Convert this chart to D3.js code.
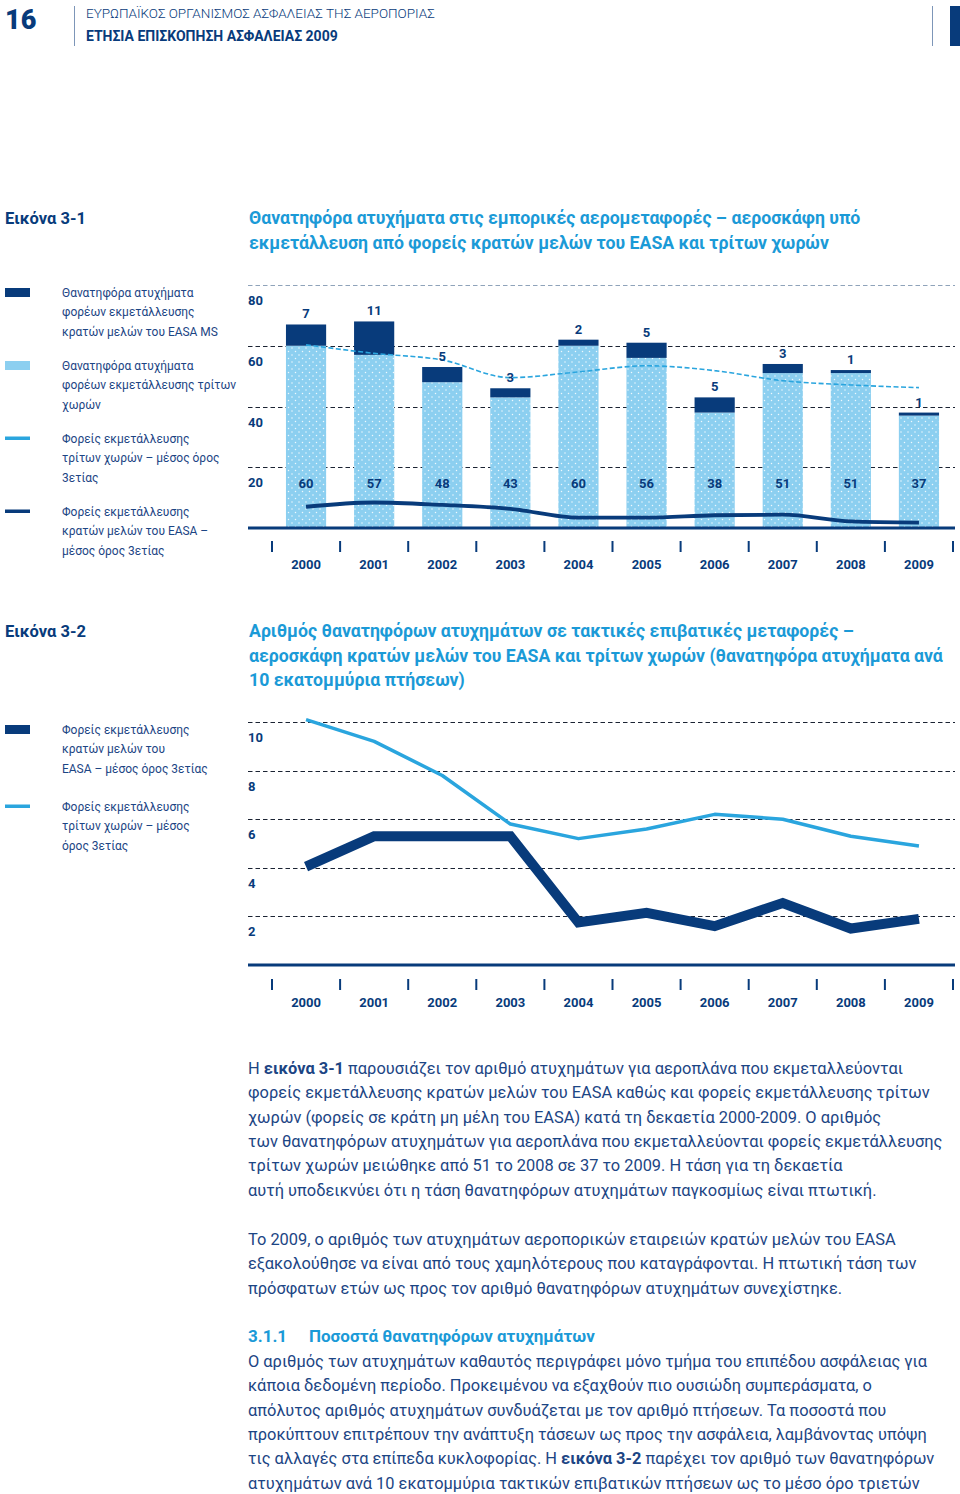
<!DOCTYPE html>
<html><head><meta charset="utf-8">
<script src="https://cdn.jsdelivr.net/npm/d3@7"></script>
<style>
body{margin:0;background:#fff}
svg{display:block}
text{font-family:Roboto,"Noto Sans",sans-serif}
</style>
</head><body>
<svg id="c" width="960" height="1494"></svg>
<script>
// ---------- DATA ----------
const years = ["2000","2001","2002","2003","2004","2005","2006","2007","2008","2009"];
const thirdCountryFatal = [60,57,48,43,60,56,38,51,51,37];
const easaFatal = [7,11,5,3,2,5,5,3,1,1];
const thirdAvg3 = [60.3,57.5,55.3,49.5,51.4,53.4,51.8,48.5,47.1,46.2];
const easaAvg3 = [7.0,8.4,7.6,6.3,3.4,3.4,4.2,4.4,2.2,1.8];
const rateThird = [10.1,9.2,7.8,5.8,5.2,5.6,6.2,6.0,5.3,4.9];
const rateEasa = [4.05,5.3,5.3,5.3,1.75,2.15,1.6,2.55,1.5,1.9];
const yTicks1 = [20,40,60,80];
const yTicks2 = [2,4,6,8,10];

const legend1 = [
  {type:"rect", color:"dark", lines:["Θανατηφόρα ατυχήματα","φορέων εκμετάλλευσης","κρατών μελών του EASA MS"]},
  {type:"rect", color:"light", lines:["Θανατηφόρα ατυχήματα","φορέων εκμετάλλευσης τρίτων","χωρών"]},
  {type:"line", color:"mid", lines:["Φορείς εκμετάλλευσης","τρίτων χωρών – μέσος όρος","3ετίας"]},
  {type:"line", color:"dark", lines:["Φορείς εκμετάλλευσης","κρατών μελών του EASA –","μέσος όρος 3ετίας"]}
];
const legend2 = [
  {type:"rect", color:"dark", lines:["Φορείς εκμετάλλευσης","κρατών μελών του","EASA – μέσος όρος 3ετίας"]},
  {type:"line", color:"mid", lines:["Φορείς εκμετάλλευσης","τρίτων χωρών – μέσος","όρος 3ετίας"]}
];

const para1 = [
  [["Η "],["εικόνα 3-1",1],[" παρουσιάζει τον αριθμό ατυχημάτων για αεροπλάνα που εκμεταλλεύονται"]],
  [["φορείς εκμετάλλευσης κρατών μελών του EASA καθώς και φορείς εκμετάλλευσης τρίτων"]],
  [["χωρών (φορείς σε κράτη μη μέλη του EASA) κατά τη δεκαετία 2000-2009. Ο αριθμός"]],
  [["των θανατηφόρων ατυχημάτων για αεροπλάνα που εκμεταλλεύονται φορείς εκμετάλλευσης"]],
  [["τρίτων χωρών μειώθηκε από 51 το 2008 σε 37 το 2009. Η τάση για τη δεκαετία"]],
  [["αυτή υποδεικνύει ότι η τάση θανατηφόρων ατυχημάτων παγκοσμίως είναι πτωτική."]]
];
const para2 = [
  [["Το 2009, ο αριθμός των ατυχημάτων αεροπορικών εταιρειών κρατών μελών του EASA"]],
  [["εξακολούθησε να είναι από τους χαμηλότερους που καταγράφονται. Η πτωτική τάση των"]],
  [["πρόσφατων ετών ως προς τον αριθμό θανατηφόρων ατυχημάτων συνεχίστηκε."]]
];
const para3 = [
  [["Ο αριθμός των ατυχημάτων καθαυτός περιγράφει μόνο τμήμα του επιπέδου ασφάλειας για"]],
  [["κάποια δεδομένη περίοδο. Προκειμένου να εξαχθούν πιο ουσιώδη συμπεράσματα, ο"]],
  [["απόλυτος αριθμός ατυχημάτων συνδυάζεται με τον αριθμό πτήσεων. Τα ποσοστά που"]],
  [["προκύπτουν επιτρέπουν την ανάπτυξη τάσεων ως προς την ασφάλεια, λαμβάνοντας υπόψη"]],
  [["τις αλλαγές στα επίπεδα κυκλοφορίας. Η "],["εικόνα 3-2",1],[" παρέχει τον αριθμό των θανατηφόρων"]],
  [["ατυχημάτων ανά 10 εκατομμύρια τακτικών επιβατικών πτήσεων ως το μέσο όρο τριετών"]]
];

// ---------- STYLE ----------
const C = {dark:"#083b7b", light:"#8ccff0", mid:"#2aa5de", text:"#1c4584", title:"#1b9ad7", grid:"#1b2333", gridTop:"#8fa3ba"};

const svg = d3.select("#c");
const defs = svg.append("defs");
const pat = defs.append("pattern").attr("id","dots").attr("patternUnits","userSpaceOnUse")
  .attr("width",7).attr("height",7);
pat.append("rect").attr("width",7).attr("height",7).attr("fill",C.light);
pat.append("circle").attr("cx",1.5).attr("cy",1.5).attr("r",0.75).attr("fill","#fff").attr("opacity",0.85);
pat.append("circle").attr("cx",5).attr("cy",5).attr("r",0.75).attr("fill","#fff").attr("opacity",0.85);

// ---------- HEADER ----------
svg.append("text").attr("x",5).attr("y",29).attr("font-size",27).attr("font-weight",900)
  .attr("fill",C.dark).text("16");
svg.append("line").attr("x1",74.5).attr("x2",74.5).attr("y1",6).attr("y2",46).attr("stroke","#7d96b8").attr("stroke-width",1);
svg.append("text").attr("x",86).attr("y",18).attr("font-size",13.5).attr("font-weight",300)
  .attr("fill",C.dark).text("ΕΥΡΩΠΑΪΚΟΣ ΟΡΓΑΝΙΣΜΟΣ ΑΣΦΑΛΕΙΑΣ ΤΗΣ ΑΕΡΟΠΟΡΙΑΣ");
svg.append("text").attr("x",86).attr("y",41).attr("font-size",14).attr("font-weight",700)
  .attr("fill",C.dark).text("ΕΤΗΣΙΑ ΕΠΙΣΚΟΠΗΣΗ ΑΣΦΑΛΕΙΑΣ 2009");
svg.append("line").attr("x1",932.5).attr("x2",932.5).attr("y1",6).attr("y2",46).attr("stroke","#7d96b8").attr("stroke-width",1);
svg.append("rect").attr("x",950).attr("y",6).attr("width",10).attr("height",40).attr("fill",C.dark);

// ---------- helpers ----------
function titleBlock(y, label, lines){
  svg.append("text").attr("x",5).attr("y",y).attr("font-size",16.5).attr("font-weight",700)
    .attr("fill",C.dark).text(label);
  lines.forEach((l,i)=>svg.append("text").attr("x",249).attr("y",y+i*24.5)
    .attr("font-size",17.7).attr("font-weight",700).attr("fill",C.title).text(l));
}
function legend(items, tops){
  items.forEach((it,i)=>{
    const t = tops[i];
    if(it.type==="rect"){
      svg.append("rect").attr("x",5).attr("y",t-4).attr("width",25).attr("height",9)
        .attr("fill",it.color==="dark"?C.dark:C.light);
    } else {
      svg.append("rect").attr("x",5).attr("y",t-1.5).attr("width",25).attr("height",3.5)
        .attr("fill",it.color==="dark"?C.dark:C.mid);
    }
    it.lines.forEach((l,j)=>svg.append("text")
      .attr("transform",`translate(62,${t+5+j*19.3}) scale(0.88,1)`)
      .attr("font-size",13.6).attr("fill",C.text).text(l));
  });
}
function paragraph(lines, y0){
  lines.forEach((segs,i)=>{
    const t = svg.append("text").attr("x",248).attr("y",y0+i*24.3).attr("font-size",16.4).attr("fill",C.text);
    segs.forEach(s=>t.append("tspan").attr("font-weight",s[1]?700:400).text(s[0]));
  });
}
function categoryAxis(x, yTick, yLabel){
  const step = x.step(), gap = step*x.paddingInner();
  const ticks = years.map(d=>x(d)-gap/2).concat([x(years[years.length-1])+x.bandwidth()+gap/2]);
  svg.append("g").selectAll("line").data(ticks).join("line")
    .attr("x1",d=>d).attr("x2",d=>d).attr("y1",yTick).attr("y2",yTick+11)
    .attr("stroke",C.dark).attr("stroke-width",2);
  svg.append("g").selectAll("text").data(years).join("text")
    .attr("x",d=>x(d)+x.bandwidth()/2).attr("y",yLabel).attr("text-anchor","middle")
    .attr("font-size",13).attr("font-weight",700).attr("fill",C.dark).text(d=>d);
}
function grid(y, ticks, topVal){
  svg.append("g").selectAll("line").data(ticks).join("line")
    .attr("x1",248).attr("x2",955).attr("y1",d=>Math.round(y(d))+0.5).attr("y2",d=>Math.round(y(d))+0.5)
    .attr("stroke",d=>d===topVal&&topVal===80?C.gridTop:C.grid).attr("stroke-width",1.1)
    .attr("stroke-dasharray","4.5,3");
  svg.append("g").selectAll("text").data(ticks).join("text")
    .attr("x",248).attr("y",d=>y(d)+20).attr("font-size",13).attr("font-weight",700)
    .attr("fill",C.dark).text(d=>d);
}

// ---------- CHART 1 ----------
titleBlock(224,"Εικόνα 3-1",["Θανατηφόρα ατυχήματα στις εμπορικές αερομεταφορές – αεροσκάφη υπό",
  "εκμετάλλευση από φορείς κρατών μελών του EASA και τρίτων χωρών"]);
legend(legend1,[292,365,438,511]);

const x1 = d3.scaleBand().domain(years).range([272,953]).paddingInner(0.41).paddingOuter(0.205);
const y1 = d3.scaleLinear().domain([0,80]).range([528,285]);
grid(y1, yTicks1, 80);

const d1 = years.map((y,i)=>({year:y, third:thirdCountryFatal[i], easa:easaFatal[i]}));
svg.append("g").selectAll("rect").data(d1).join("rect")
  .attr("x",d=>x1(d.year)).attr("width",x1.bandwidth())
  .attr("y",d=>y1(d.third)).attr("height",d=>y1(0)-y1(d.third)).attr("fill","url(#dots)");
svg.append("g").selectAll("rect").data(d1).join("rect")
  .attr("x",d=>x1(d.year)).attr("width",x1.bandwidth())
  .attr("y",d=>y1(d.third+d.easa)).attr("height",d=>y1(d.third)-y1(d.third+d.easa)).attr("fill",C.dark);

const cx1 = d=>x1(d)+x1.bandwidth()/2;
svg.append("path").datum(thirdAvg3).attr("fill","none").attr("stroke",C.mid).attr("stroke-width",1.6)
  .attr("stroke-dasharray","5,2.5")
  .attr("d",d3.line().x((d,i)=>cx1(years[i])).y(d=>y1(d)).curve(d3.curveMonotoneX));
svg.append("path").datum(easaAvg3).attr("fill","none").attr("stroke",C.dark).attr("stroke-width",3.8)
  .attr("d",d3.line().x((d,i)=>cx1(years[i])).y(d=>y1(d)).curve(d3.curveMonotoneX));

svg.append("line").attr("x1",248).attr("x2",955).attr("y1",y1(0)).attr("y2",y1(0))
  .attr("stroke",C.dark).attr("stroke-width",3);

svg.append("g").selectAll("text").data(d1).join("text")
  .attr("x",d=>cx1(d.year)).attr("y",488).attr("text-anchor","middle")
  .attr("font-size",13).attr("font-weight",700).attr("fill",C.dark).text(d=>d.third);
svg.append("g").selectAll("text").data(d1).join("text")
  .attr("x",d=>cx1(d.year)).attr("y",d=>y1(d.third+d.easa)-6).attr("text-anchor","middle")
  .attr("font-size",13).attr("font-weight",700).attr("fill",C.dark).text(d=>d.easa);

categoryAxis(x1, 541, 569);

// ---------- CHART 2 ----------
titleBlock(637,"Εικόνα 3-2",["Αριθμός θανατηφόρων ατυχημάτων σε τακτικές επιβατικές μεταφορές –",
  "αεροσκάφη κρατών μελών του EASA και τρίτων χωρών (θανατηφόρα ατυχήματα ανά",
  "10 εκατομμύρια πτήσεων)"]);
legend(legend2,[729,806]);

const x2 = d3.scaleBand().domain(years).range([272,953]).paddingInner(0.41).paddingOuter(0.205);
const y2 = d3.scaleLinear().domain([0,10]).range([965,722]);
grid(y2, yTicks2, 10);
const cx2 = d=>x2(d)+x2.bandwidth()/2;
svg.append("path").datum(rateThird).attr("fill","none").attr("stroke",C.mid).attr("stroke-width",3.5)
  .attr("stroke-linejoin","round")
  .attr("d",d3.line().x((d,i)=>cx2(years[i])).y(d=>y2(d)));
svg.append("path").datum(rateEasa).attr("fill","none").attr("stroke",C.dark).attr("stroke-width",10)
  .attr("stroke-linejoin","miter")
  .attr("d",d3.line().x((d,i)=>cx2(years[i])).y(d=>y2(d)));
svg.append("line").attr("x1",248).attr("x2",955).attr("y1",y2(0)).attr("y2",y2(0))
  .attr("stroke",C.dark).attr("stroke-width",3);
categoryAxis(x2, 979, 1007);

// ---------- TEXT ----------
paragraph(para1, 1074);
paragraph(para2, 1245);
svg.append("text").attr("x",248).attr("y",1342).attr("font-size",17).attr("font-weight",700)
  .attr("fill",C.title).text("3.1.1");
svg.append("text").attr("x",309).attr("y",1342).attr("font-size",17).attr("font-weight",700)
  .attr("fill",C.title).text("Ποσοστά θανατηφόρων ατυχημάτων");
paragraph(para3, 1367);
</script>
</body></html>
